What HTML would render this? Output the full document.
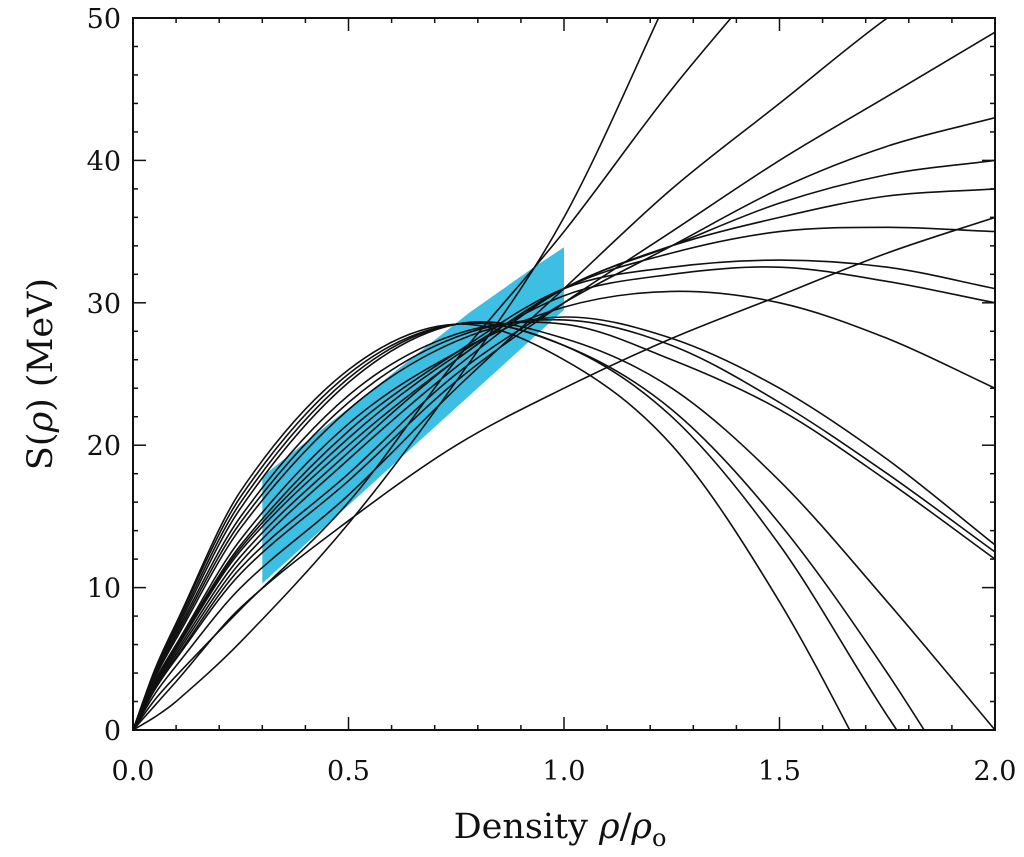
<!DOCTYPE html>
<html><head><meta charset="utf-8"><style>
body{margin:0;background:#fff}
svg{display:block}
text{font-family:"DejaVu Serif","Liberation Serif",serif;fill:#111}
</style></head><body>
<svg id="chart" width="1024" height="857" viewBox="0 0 1024 857" xmlns="http://www.w3.org/2000/svg">
<defs><clipPath id="plotclip"><rect x="133" y="18" width="862" height="712"/></clipPath></defs>
<g id="band" clip-path="url(#plotclip)"></g>
<g id="curves" clip-path="url(#plotclip)" fill="none" stroke="#111" stroke-width="1.6"></g>
<rect x="133" y="18" width="862" height="712" fill="none" stroke="#111" stroke-width="2"/>
<g id="ticks" stroke="#111" stroke-width="1.5"></g>
<g id="labels" font-size="27"></g>
<text x="560" y="838" font-size="35" text-anchor="middle">Density <tspan font-style="italic">ρ</tspan>/<tspan font-style="italic">ρ</tspan><tspan font-size="24" dy="8">o</tspan></text>
<text transform="translate(52,374) rotate(-90)" font-size="35" text-anchor="middle">S(<tspan font-style="italic">ρ</tspan>)  (MeV)</text>
</svg>
<script>
const xs = [0,0.05,0.1,0.25,0.5,0.75,1.0,1.25,1.5,1.75,2.0];
const curveA = [0,0.9,2.0,6.2,14.5,24.5,36,52];
const curveB = [0,2.1,3.8,8.5,16,26,35,45,54];
const curveC = [0,2.5,4.5,10,16.5,24,31,38,44,50,55];
const curveD = [0,2.8,5.0,11,17.5,24.5,30,35,40,44.5,49];
const curveE = [0,2.9,5.1,11.4,18,25,30,34,38,41,43];
const curveF = [0,3.0,5.3,11.8,19,25.5,31,34,37,39,40];
const curveG = [0,3.1,5.5,12.2,19.5,26,31,34,36,37.5,38];
const curveH = [0,1.7,3.4,8.6,14.7,20,24,27.5,30.5,33.5,36];
const curveI = [0,3.2,5.7,12.6,20,26,31,33.5,35,35.3,35];
const curveJ = [0,3.3,5.9,13,21,26.5,31,32.5,33,32.5,31];
const curveK = [0,3.2,5.8,12.8,20.5,26.3,30.5,32,32.5,31.5,30];
const curveL = [0,3.4,6.0,13.4,21.5,26.5,29.7,30.8,30,27.5,24];
const curveM = [0,3.6,6.4,14.2,22.5,27.3,29,27.5,24,19,13];
const curveN = [0,3.7,6.6,14.6,23,27.6,28.8,27,23,18,12.5];
const curveO = [0,3.8,6.8,15,23.5,27.8,28.5,26,22.5,17.5,12];
const curveP = [0,4.2,7.5,16.8,25.3,28.5,26,20,9,-5];
const curveQ = [0,4.1,7.4,16.4,25,28.5,27,22,13,1,-10];
const curveR = [0,4.0,7.2,16,24.7,28.5,27,22.5,14.5,4,-8];
const curveS = [0,3.9,7.0,15.6,24.4,28.5,27.5,24,17.5,9,0];
const curves = [curveA,curveB,curveC,curveD,curveE,curveF,curveG,curveH,curveI,curveJ,curveK,curveL,curveM,curveN,curveO,curveP,curveQ,curveR,curveS];
const bandRho = [0.3,0.3,0.78,0.93,1.0,1.0];
const bandS = [10.3,17.8,29.3,32.5,33.9,29.5];
const xTicks = [0,0.5,1.0,1.5,2.0];
const xTickLabels = ["0.0","0.5","1.0","1.5","2.0"];
const yTicks = [0,10,20,30,40,50];
const yTickLabels = ["0","10","20","30","40","50"];

const NS="http://www.w3.org/2000/svg";
const X0=133,X1=995,Y0=730,Y1=18;
const sx=v=>X0+(v-0)/(2-0)*(X1-X0);
const sy=v=>Y0-(v-0)/(50-0)*(Y0-Y1);

function catmull(pts){
  let d="M"+pts[0][0].toFixed(1)+","+pts[0][1].toFixed(1);
  for(let i=0;i<pts.length-1;i++){
    const p0=pts[i-1]||pts[i],p1=pts[i],p2=pts[i+1],p3=pts[i+2]||p2;
    const h=p2[0]-p1[0];
    const s1=(p2[1]-p0[1])/((p2[0]-p0[0])||1), s2=(p3[1]-p1[1])/((p3[0]-p1[0])||1);
    const c1=[p1[0]+h/3,p1[1]+s1*h/3];
    const c2=[p2[0]-h/3,p2[1]-s2*h/3];
    d+="C"+c1[0].toFixed(1)+","+c1[1].toFixed(1)+" "+c2[0].toFixed(1)+","+c2[1].toFixed(1)+" "+p2[0].toFixed(1)+","+p2[1].toFixed(1);
  }
  return d;
}
const band=document.getElementById('band');
const poly=document.createElementNS(NS,'polygon');
poly.setAttribute('points',bandRho.map((r,i)=>sx(r)+","+sy(bandS[i])).join(" "));
poly.setAttribute('fill','#3dbfe3');


band.appendChild(poly);

const g=document.getElementById('curves');
curves.forEach((c,k)=>{
  const pts=c.map((v,i)=>[sx(xs[i]),sy(v)]);
  const p=document.createElementNS(NS,'path');
  p.setAttribute('d',catmull(pts));
  
  
  g.appendChild(p);
});

const t=document.getElementById('ticks');
function line(x1,y1,x2,y2){const l=document.createElementNS(NS,'line');l.setAttribute('x1',x1);l.setAttribute('y1',y1);l.setAttribute('x2',x2);l.setAttribute('y2',y2);


t.appendChild(l);}
for(let i=0;i<=20;i++){const v=i/10,x=sx(v),len=(i%5===0)?13:5;line(x,Y0,x,Y0-len);line(x,Y1,x,Y1+len);}
for(let i=0;i<=25;i++){const v=i*2,y=sy(v),len=(v%10===0)?13:5;line(X0,y,X0+len,y);line(X1,y,X1-len,y);}

const lab=document.getElementById('labels');
xTicks.forEach((v,i)=>{const e=document.createElementNS(NS,'text');e.setAttribute('x',sx(v));e.setAttribute('y',780);e.setAttribute('text-anchor','middle');e.textContent=xTickLabels[i];


lab.appendChild(e);});
yTicks.forEach((v,i)=>{const e=document.createElementNS(NS,'text');e.setAttribute('x',121);e.setAttribute('y',sy(v)+10);e.setAttribute('text-anchor','end');e.textContent=yTickLabels[i];


lab.appendChild(e);});
</script>
</body></html>
